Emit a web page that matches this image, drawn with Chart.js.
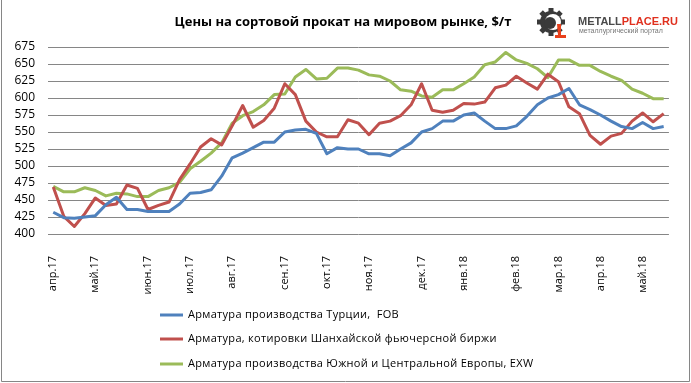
<!DOCTYPE html>
<html>
<head>
<meta charset="utf-8">
<script src="https://cdn.jsdelivr.net/npm/chart.js@4.4.1/dist/chart.umd.min.js"></script>
<style>
  html, body { margin: 0; padding: 0; background: #fff; }
  #wrap { width: 691px; height: 383px; position: relative; }
</style>
</head>
<body>
<div id="wrap"><canvas id="priceChart" width="691" height="383"></canvas></div>
<script>
// month names shown on the axis and number of weekly points in each month
const months = ["апр.17", "май.17", "июн.17", "июл.17", "авг.17", "сен.17", "окт.17",
                "ноя.17", "дек.17", "янв.18", "фев.18", "мар.18", "апр.18", "май.18"];
const weeksPerMonth = [4, 5, 4, 4, 5, 4, 4, 5, 4, 5, 4, 4, 4, 3];

// $/t, weekly
const turkeyFob = [432, 424, 423, 425, 427, 443, 454, 436, 436, 433, 433, 433, 444, 460, 461, 465,
                   485, 512, 519, 527, 535, 535, 550, 553, 554, 548, 518, 527, 525, 525, 518, 518,
                   515, 525, 534, 550, 555, 566, 566, 575, 578, 566, 555, 555, 559, 573, 590, 600,
                   605, 614, 590, 583, 575, 566, 558, 555, 564, 555, 558];
const shanghai = [469, 426, 411, 430, 453, 442, 444, 472, 467, 436, 442, 447, 480, 503, 528, 540,
                  531, 559, 589, 557, 567, 585, 621, 605, 566, 550, 543, 543, 568, 563, 546, 563,
                  566, 574, 590, 621, 582, 579, 582, 592, 591, 594, 615, 619, 632, 622, 613, 635,
                  624, 587, 577, 545, 532, 544, 548, 566, 578, 565, 577];
const europeExw = [470, 462, 462, 468, 464, 456, 460, 459, 455, 455, 464, 468, 476, 496, 507, 519,
                   534, 563, 574, 580, 590, 605, 606, 631, 642, 628, 629, 644, 644, 641, 634, 632,
                   625, 612, 610, 603, 601, 612, 612, 621, 631, 649, 653, 667, 656, 651, 643, 630,
                   656, 656, 648, 648, 639, 632, 626, 613, 607, 599, 599];

const seriesNames = ["Арматура производства Турции,  FOB",
                     "Арматура, котировки Шанхайской фьючерсной биржи",
                     "Арматура производства Южной и Центральной Европы, EXW"];
const seriesColors = ["#4F81BD", "#C0504D", "#9BBB59"];

// one label per week, month name on the first week of each month
const weekLabels = [];
months.forEach((m, i) => {
  for (let w = 0; w < weeksPerMonth[i]; w++) weekLabels.push(w === 0 ? m : "");
});

const FONT = "'Open Sans', 'DejaVu Sans', sans-serif";

const framePlugin = {
  id: "frame",
  beforeDraw(chart) {
    const ctx = chart.ctx;
    ctx.save();
    ctx.fillStyle = "#fff";
    ctx.fillRect(0, 0, chart.width, chart.height);
    ctx.strokeStyle = "#868686";
    ctx.lineWidth = 1;
    ctx.beginPath();
    ctx.moveTo(1.5, 0);
    ctx.lineTo(1.5, 381.5);
    ctx.lineTo(689.5, 381.5);
    ctx.lineTo(689.5, 0);
    ctx.stroke();
    ctx.restore();
  }
};

const headerPlugin = {
  id: "header",
  afterDraw(chart) {
    const ctx = chart.ctx;
    ctx.save();
    // title
    ctx.fillStyle = "#000";
    ctx.font = "bold 13px " + FONT;
    ctx.textAlign = "center";
    ctx.textBaseline = "middle";
    ctx.fillText("Цены на сортовой прокат на мировом рынке, $/т", 343, 22);

    // logo: gear
    const cx = 551, cy = 22;
    ctx.fillStyle = "#3a3a3a";
    for (let k = 0; k < 8; k++) {
      ctx.save();
      ctx.translate(cx, cy);
      ctx.rotate(k * Math.PI / 4);
      ctx.fillRect(-2.5, -14, 5, 5);
      ctx.restore();
    }
    ctx.beginPath();
    ctx.arc(cx, cy, 11, 0, Math.PI * 2);
    ctx.fill();
    ctx.fillStyle = "#fff";
    ctx.beginPath();
    ctx.arc(cx + 2, cy, 8, 0, Math.PI * 2);
    ctx.fill();
    ctx.fillStyle = "#3a3a3a";
    ctx.beginPath();
    ctx.arc(cx - 1, cy + 1, 6, 0, Math.PI * 2);
    ctx.fill();
    // red ladle
    ctx.fillStyle = "#e8401c";
    ctx.beginPath();
    ctx.moveTo(cx + 6, cy + 2);
    ctx.lineTo(cx + 10, cy + 2);
    ctx.lineTo(cx + 10, cy + 13);
    ctx.lineTo(cx + 15, cy + 13);
    ctx.lineTo(cx + 15, cy + 16);
    ctx.lineTo(cx + 4, cy + 16);
    ctx.lineTo(cx + 4, cy + 13);
    ctx.lineTo(cx + 7, cy + 13);
    ctx.closePath();
    ctx.fill();

    // logo: text
    ctx.textAlign = "left";
    ctx.textBaseline = "alphabetic";
    ctx.font = "bold 11px 'Liberation Sans', Arial, sans-serif";
    ctx.fillStyle = "#4a4a4a";
    ctx.fillText("METALL", 578, 25);
    const w = ctx.measureText("METALL").width;
    ctx.fillStyle = "#e0301e";
    ctx.fillText("PLACE.RU", 578 + w, 25);
    ctx.font = "7px 'Liberation Sans', Arial, sans-serif";
    ctx.fillStyle = "#777";
    ctx.fillText("металлургический портал", 579, 33);
    ctx.restore();
  }
};

const legendPlugin = {
  id: "sideLegend",
  afterDraw(chart) {
    const ctx = chart.ctx;
    const rows = [315, 339, 364];
    ctx.save();
    ctx.font = "11px " + FONT;
    ctx.letterSpacing = "0.3px";
    ctx.textBaseline = "middle";
    ctx.textAlign = "left";
    chart.data.datasets.forEach((ds, i) => {
      ctx.strokeStyle = ds.borderColor;
      ctx.lineWidth = 3;
      ctx.beginPath();
      ctx.moveTo(160, rows[i]);
      ctx.lineTo(183, rows[i]);
      ctx.stroke();
      ctx.fillStyle = "#000";
      ctx.fillText(ds.label, 188, rows[i]);
    });
    ctx.restore();
  }
};

const datasets = [turkeyFob, shanghai, europeExw].map((values, i) => ({
  label: seriesNames[i],
  data: values,
  borderColor: seriesColors[i],
  backgroundColor: seriesColors[i],
  borderWidth: 3,
  borderJoinStyle: "round",
  pointRadius: 0,
  tension: 0,
  fill: false
}));

new Chart(document.getElementById("priceChart"), {
  type: "line",
  data: { labels: weekLabels, datasets: datasets },
  options: {
    responsive: false,
    animation: false,
    devicePixelRatio: 1,
    layout: { padding: { top: 47, right: 16, bottom: 89, left: 0 } },
    plugins: {
      legend: { display: false },
      title: { display: false },
      tooltip: { enabled: false }
    },
    scales: {
      x: {
        type: "category",
        offset: true,
        grid: { display: false },
        border: { display: false },
        afterFit: (s) => { s.height = 60; },
        ticks: {
          autoSkip: false,
          minRotation: 90,
          maxRotation: 90,
          padding: 14,
          color: "#000",
          font: { family: FONT, size: 11 }
        }
      },
      y: {
        min: 400,
        max: 675,
        afterFit: (s) => { s.width = 48; },
        grid: { color: "#868686", lineWidth: 1, drawTicks: false },
        border: { display: false },
        ticks: {
          stepSize: 25,
          autoSkip: false,
          padding: 13,
          color: "#000",
          font: { family: FONT, size: 12 }
        }
      }
    }
  },
  plugins: [framePlugin, headerPlugin, legendPlugin]
});
</script>
</body>
</html>
